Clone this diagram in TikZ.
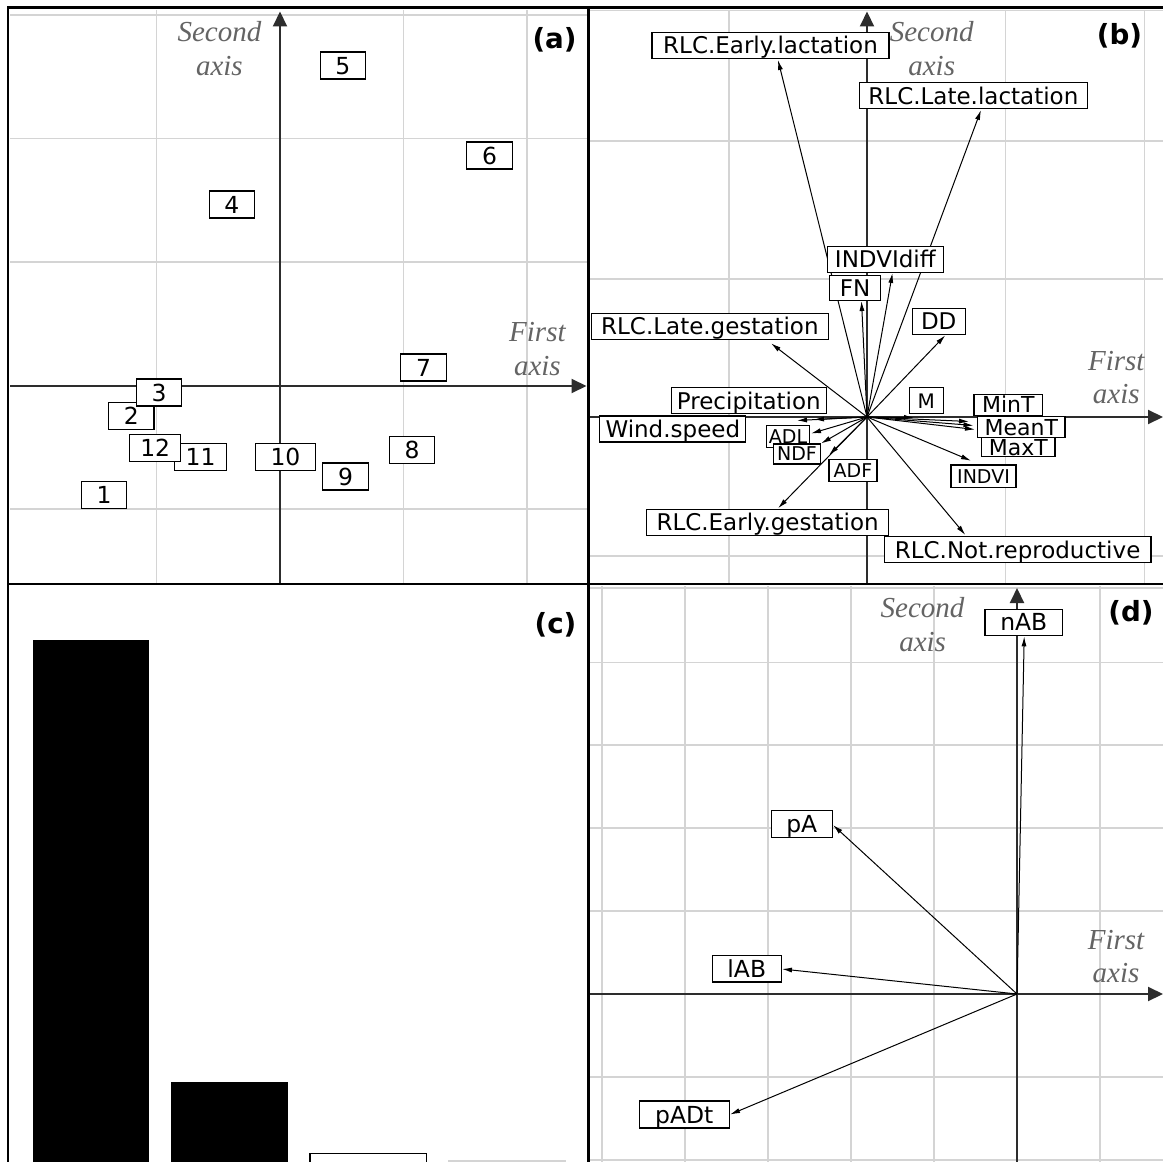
\documentclass[tikz,border=0pt]{standalone}
\usepackage{fontspec}
\newfontfamily\labelfont{DejaVu Sans}
\newfontfamily\axisfont{Liberation Serif}
\usetikzlibrary{arrows.meta}
\definecolor{gridgrey}{RGB}{212,212,212}
\definecolor{axisgrey}{RGB}{45,45,45}
\definecolor{namegrey}{RGB}{100,100,100}
\tikzset{
  gridline/.style={draw=gridgrey, line width=0.9pt},
  axisline/.style={draw=axisgrey, line width=1.5pt, -{Triangle[length=11.25pt,width=10.5pt]}},
  frameline/.style={line width=2.2pt},
  vec/.style={line width=0.75pt, -{Latex[length=7.5pt,width=3.8pt]}},
  sitebox/.style={draw, fill=white, line width=0.8pt, inner sep=0pt, minimum width=33.9pt, minimum height=20.25pt, text height=12.8pt, text depth=0pt, font=\labelfont\fontsize{17.6}{20}\selectfont},
  bigbox/.style={draw, fill=white, line width=0.8pt, inner sep=0pt, minimum height=19.7pt, text height=12.6pt, text depth=0pt, font=\labelfont\fontsize{17.25}{20}\selectfont},
  midbox/.style={draw, fill=white, line width=0.8pt, inner sep=0pt, minimum height=15.7pt, text height=12pt, text depth=0pt, font=\labelfont\fontsize{16.5}{20}\selectfont},
  smallbox/.style={draw, fill=white, line width=0.8pt, inner sep=0pt, minimum height=16.5pt, text height=10.4pt, text depth=0pt, font=\labelfont\fontsize{14.25}{17}\selectfont},
  axname/.style={text=namegrey, align=center, inner sep=0pt, anchor=north, font=\axisfont\itshape\fontsize{21.75}{25}\selectfont},
  panelmark/.style={inner sep=0pt, font=\labelfont\bfseries\fontsize{20.8}{24}\selectfont}
}
\begin{document}
\begin{tikzpicture}[x=0.75pt,y=0.75pt,yscale=-1,xscale=1]
\useasboundingbox (0,0) rectangle (1163,1162);
\clip (0,0) rectangle (1163,1162);
\fill[white] (0,0) rectangle (1163,1162);
%Grid lines (a)
\foreach \gx in {156.5,403.5,527} \draw[gridline] (\gx,10) -- (\gx,584);
\foreach \gy in {15,138.5,262,509} \draw[gridline] (10,\gy) -- (588,\gy);
%Grid lines (b)
\foreach \gx in {729,1005.5,1144.5} \draw[gridline] (\gx,10) -- (\gx,584);
\foreach \gy in {10.5,141,279,556} \draw[gridline] (590,\gy) -- (1163,\gy);
%Grid lines (d)
\foreach \gx in {602,685,768,851,934,1100} \draw[gridline] (\gx,586) -- (\gx,1162);
\foreach \gy in {588,662.5,745,828,911,1077,1160} \draw[gridline] (590,\gy) -- (1163,\gy);
%Axes
\draw[axisline] (10,386) -- (586.5,386);
\draw[axisline] (280,584) -- (280,11.5);
\draw[axisline] (590,417) -- (1163,417);
\draw[axisline] (867,584) -- (867,11.5);
\draw[axisline] (590,994) -- (1163,994);
\draw[axisline] (1017,1162) -- (1017,588);
%Bars (c)
\fill (32.7,639.5) rectangle (149,1175);
\fill (171,1081.5) rectangle (288,1175);
\draw[line width=0.9pt, fill=white] (310,1153.5) rectangle (426.5,1175);
\draw[draw=gridgrey, line width=0.9pt] (449,1161) rectangle (565.6,1175);
%Vectors (b)
\coordinate (ob) at (867,417);
\foreach \tip/\px/\py in {earlylac/778/60, latelac/981/110, indvidiff/892.5/273, fn/861.5/301,
  dd/945.3/335.3, lategest/771/343.3, wind/797/420.5, precip/814/419.5, adl/811/433.5,
  ndf/821/443.5, adf/829/455, earlygest/778/508.3, notrep/965.4/535, indvi/971/460.7,
  m/914/417.5, mint/969/421.5, meant/973.5/425.5, maxt/975/429.5}
{
  \coordinate (t-\tip) at (\px,\py);
  \draw[vec] (ob) -- (t-\tip);
}
%Vectors (d)
\coordinate (od) at (1017,994);
\foreach \tip/\px/\py in {nab/1024.2/636.4, pa/833/825, lab/782/969, padt/730/1114.5}
{
  \coordinate (t-\tip) at (\px,\py);
  \draw[vec] (od) -- (t-\tip);
}
%Frames
\draw[frameline] (8,1162) -- (8,7.5) -- (1163,7.5);
\draw[frameline, line width=2.8pt] (588.5,7.5) -- (588.5,1162);
\draw[frameline] (8,584) -- (1163,584);
% Text Node: sites (a)
\foreach \n/\px/\py in {1/104/494.7, 2/131.4/416.2, 3/159.2/392.5, 4/231.8/204.5, 5/342.8/65.5,
  6/489.5/155.5, 7/423.5/367.5, 8/412.1/450.3, 9/345.5/476.5}
  \node[sitebox] (s\n) at (\px,\py) {\n};
\node[sitebox, minimum width=45pt] (s10) at (285.5,456.7) {10};
\node[sitebox, minimum width=39.5pt] (s11) at (200.6,456.7) {11};
\node[sitebox, minimum width=38.2pt] (s12) at (155.2,447.8) {12};
% Text Node: variables (b)
\node[bigbox, minimum width=177.75pt] (earlylac) at (770.5,45.3) {RLC.Early.lactation};
\node[bigbox, minimum width=171pt] (latelac) at (973.4,95.7) {RLC.Late.lactation};
\node[bigbox, minimum width=87.15pt, minimum height=19.2pt] (indvidiff) at (885.3,259.5) {INDVIdiff};
\node[bigbox, minimum width=37.65pt, minimum height=19.3pt] (fn) at (855,288) {FN};
\node[bigbox, minimum width=40pt, minimum height=19.5pt] (dd) at (938.7,321.3) {DD};
\node[bigbox, minimum width=178.3pt] (lategest) at (709.9,326.5) {RLC.Late.gestation};
\node[bigbox, minimum width=116pt, minimum height=19.5pt] (precip) at (748.8,400.7) {Precipitation};
\node[bigbox, minimum width=109.35pt, minimum height=19.5pt] (wind) at (672.8,429) {Wind.speed};
\node[smallbox, minimum width=32pt, minimum height=16.7pt] (adl) at (788,436.2) {ADL};
\node[smallbox, minimum width=35.5pt, minimum height=15pt] (ndf) at (797,454) {NDF};
\node[smallbox, minimum width=36pt, minimum height=16.3pt] (adf) at (853,470.2) {ADF};
\node[smallbox, minimum width=25.5pt, minimum height=19.7pt, text height=10.9pt, font=\labelfont\fontsize{15}{18}\selectfont] (m) at (926.3,400.8) {M};
\node[midbox, minimum width=51.5pt, minimum height=15.5pt] (mint) at (1008.3,404.7) {MinT};
\node[midbox, minimum width=55pt, minimum height=14.25pt] (maxt) at (1018.3,447) {MaxT};
\node[midbox, minimum width=65.5pt, minimum height=15.75pt] (meant) at (1021.3,427.2) {MeanT};
\node[smallbox, minimum width=48.75pt, minimum height=17pt] (indvi) at (983.5,476.3) {INDVI};
\node[bigbox, minimum width=181.5pt] (earlygest) at (767.6,522.2) {RLC.Early.gestation};
\node[bigbox, minimum width=200.1pt, minimum height=19.5pt] (notrep) at (1017.6,549.7) {RLC.Not.reproductive};
% Text Node: variables (d)
\node[sitebox, minimum width=58.2pt, minimum height=20pt] (nab) at (1023.8,622.4) {nAB};
\node[sitebox, minimum width=45.75pt, minimum height=20pt] (pa) at (801.8,824.2) {pA};
\node[sitebox, minimum width=51.6pt, minimum height=19.8pt] (lab) at (746.8,968.8) {lAB};
\node[sitebox, minimum width=67.5pt] (padt) at (684.3,1114.5) {pADt};
% Text Node: axis names
\node[axname] (a-second) at (219.4,21.5) {Second\\axis};
\node[axname] (a-first) at (537.4,322.5) {First\\axis};
\node[axname] (b-second) at (931.7,21.5) {Second\\axis};
\node[axname] (b-first) at (1116.3,351) {First\\axis};
\node[axname] (d-second) at (922.6,597.5) {Second\\axis};
\node[axname] (d-first) at (1116,930) {First\\axis};
% Text Node: panel marks
\node[panelmark] (tag-a) at (554.6,40) {(a)};
\node[panelmark] (tag-b) at (1119.5,35.5) {(b)};
\node[panelmark] (tag-c) at (555.5,624.5) {(c)};
\node[panelmark] (tag-d) at (1131,612.9) {(d)};
\end{tikzpicture}
\end{document}
